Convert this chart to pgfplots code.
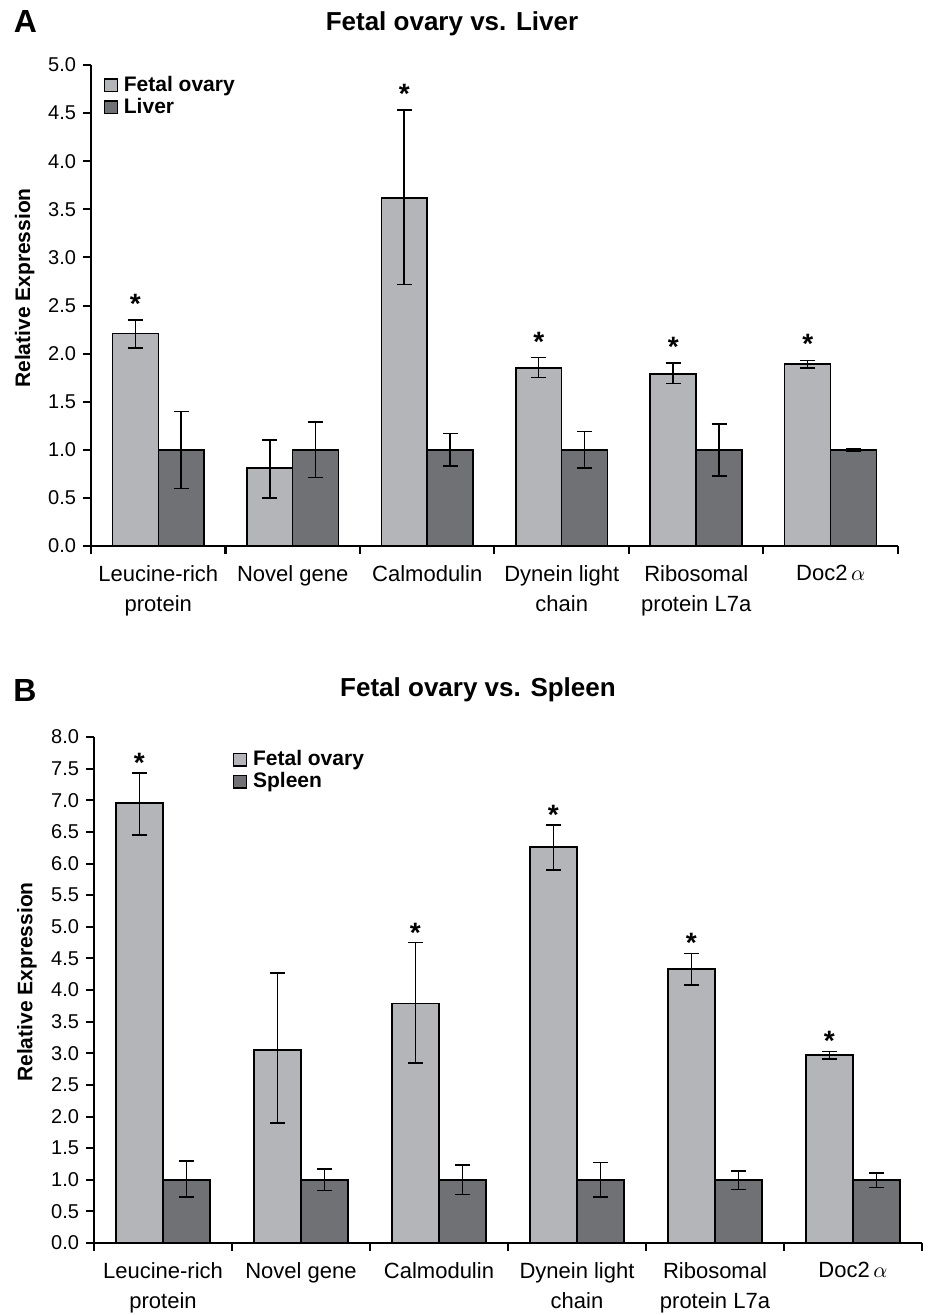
\documentclass[border=0pt]{standalone}
\usepackage{fontspec}
\setmainfont{Liberation Sans}
\usepackage{pgfplots}
\pgfplotsset{compat=1.18}
\usepackage{pgfplotstable}

\definecolor{lightbar}{RGB}{180,181,185}
\definecolor{darkbar}{RGB}{112,113,117}

% Panel A: fetal ovary vs liver
\pgfplotstableread{
x fo fop fom ot otp otm
0 2.21 0.14 0.15 1.00 0.40 0.40
1 0.81 0.29 0.31 1.00 0.29 0.29
2 3.62 0.91 0.90 1.00 0.17 0.17
3 1.85 0.11 0.10 1.00 0.19 0.19
4 1.79 0.11 0.10 1.00 0.27 0.27
5 1.89 0.04 0.04 1.00 0.01 0.01
}\tabA

% Panel B: fetal ovary vs spleen
\pgfplotstableread{
x fo fop fom ot otp otm
0 6.96 0.47 0.51 1.00 0.30 0.27
1 3.05 1.22 1.15 1.00 0.17 0.17
2 3.79 0.96 0.94 1.00 0.23 0.23
3 6.26 0.35 0.36 1.00 0.27 0.27
4 4.33 0.25 0.25 1.00 0.14 0.15
5 2.97 0.06 0.06 1.00 0.11 0.12
}\tabB

\pgfplotsset{
  panel/.style={
    scale only axis,
    axis x line*=bottom, axis y line*=left,
    axis line style={line width=1pt,-},
    tick align=outside,
    major tick style={line width=1pt, black},
    major tick length=4pt,
    xmin=-0.5, xmax=5.5, ymin=0,
    xtick={-0.5,0.5,1.5,2.5,3.5,4.5,5.5},
    xticklabels={},
    extra x ticks={0,1,2,3,4,5},
    extra x tick labels={{Leucine-rich\\protein},{Novel gene},{Calmodulin},{Dynein light\\chain},{Ribosomal\\protein L7a},{Doc2\,$\alpha$}},
    extra x tick style={major tick length=0pt,
      xticklabel style={align=center, anchor=north, yshift=-6pt,
        font=\fontsize{11}{15}\selectfont}},
    /pgf/number format/assume math mode=true,
    yticklabel style={font=\fontsize{10}{12}\selectfont,
      /pgf/number format/fixed, /pgf/number format/fixed zerofill,
      /pgf/number format/precision=1},
    legend cell align=left,
    legend image code/.code={\draw[##1, line width=0.7pt] (0pt,-3.1pt) rectangle (6.5pt,3.1pt);},
    legend style={draw=none, fill=none, inner sep=0pt,
      font=\bfseries\fontsize{10.5}{11.5}\selectfont,
      row sep=0pt, column sep=2pt,
      nodes={inner sep=1pt}},
  },
  barcommon/.style={ybar, bar width=0.342, bar shift=0pt, draw=black, line width=0.75pt,
    error bars/.cd, y dir=both, y explicit,
    error bar style={line width=0.75pt, black},
    error mark options={rotate=90, mark size=3.75pt, line width=0.75pt, black},
    /pgfplots/.cd},
  fobar/.style={fill=lightbar, barcommon},
  otbar/.style={fill=darkbar, barcommon},
  stars/.style={only marks, mark=none, forget plot,
    nodes near coords={*},
    every node near coord/.append style={anchor=south, inner sep=0pt, yshift=#1,
      font=\bfseries\fontsize{14}{14}\selectfont}},
}

\begin{document}
\begin{tikzpicture}
\useasboundingbox (0pt,0pt) rectangle (464.5pt,-657.5pt);

% ---------------- Panel A ----------------
\begin{axis}[panel,
  at={(45.5pt,-273pt)}, anchor=south west,
  width=403.5pt, height=240.5pt,
  ymax=5, ytick={0,0.5,...,5},
  legend style={at={(0.015,0.982)}, anchor=north west},
]
\addplot[fobar] table[x expr=\thisrow{x}-0.171, y=fo, y error plus=fop, y error minus=fom]{\tabA};
\addlegendentry{Fetal ovary}
\addplot[otbar] table[x expr=\thisrow{x}+0.171, y=ot, y error plus=otp, y error minus=otm]{\tabA};
\addlegendentry{Liver}
\addplot[stars=3pt] coordinates {(-0.171,2.35) (1.829,4.53) (2.829,1.96) (3.829,1.90) (4.829,1.93)};
\end{axis}

% ---------------- Panel B ----------------
\begin{axis}[panel,
  at={(47pt,-621.5pt)}, anchor=south west,
  width=414pt, height=253pt,
  ymax=8, ytick={0,0.5,...,8},
  legend style={at={(0.167,0.978)}, anchor=north west},
]
\addplot[fobar] table[x expr=\thisrow{x}-0.171, y=fo, y error plus=fop, y error minus=fom]{\tabB};
\addlegendentry{Fetal ovary}
\addplot[otbar] table[x expr=\thisrow{x}+0.171, y=ot, y error plus=otp, y error minus=otm]{\tabB};
\addlegendentry{Spleen}
\addplot[stars=0pt] coordinates {(-0.171,7.43) (1.829,4.75) (2.829,6.61) (3.829,4.58) (4.829,3.03)};
\end{axis}

% titles, panel letters, y labels
\node[font=\bfseries\fontsize{13}{13}\selectfont] at (226pt,-12pt) {Fetal ovary vs. Liver};
\node[font=\bfseries\fontsize{13}{13}\selectfont] at (239pt,-345pt) {Fetal ovary vs. Spleen};
\node[font=\bfseries\fontsize{16}{16}\selectfont] at (12.75pt,-10.75pt) {A};
\node[font=\bfseries\fontsize{16}{16}\selectfont] at (12.5pt,-345pt) {B};
\node[rotate=90, font=\bfseries\fontsize{10.5}{12}\selectfont] at (12.3pt,-144pt) {Relative Expression};
\node[rotate=90, font=\bfseries\fontsize{10.5}{12}\selectfont] at (13.5pt,-491pt) {Relative Expression};
\end{tikzpicture}
\end{document}
